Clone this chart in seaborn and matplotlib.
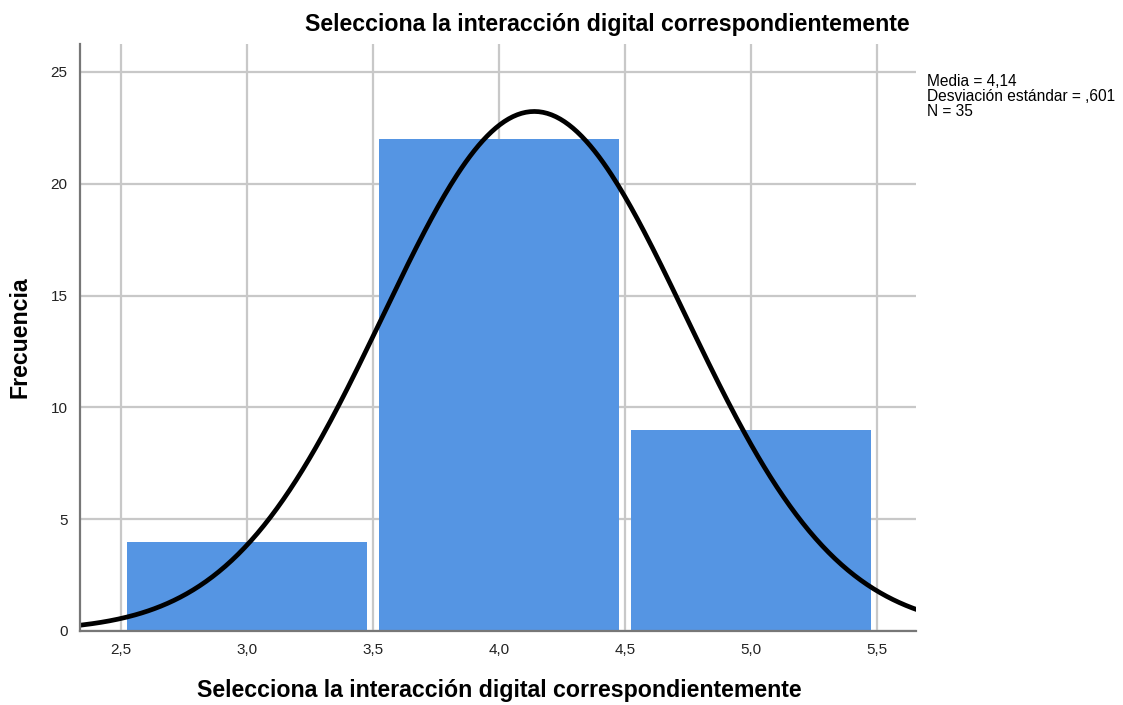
import numpy as np
import pandas as pd
import matplotlib
matplotlib.use("Agg")
import matplotlib.pyplot as plt
import seaborn as sns

# Datos
valores = [3, 4, 5]
frecuencias = [4, 22, 9]
bordes = [2.5, 3.5, 4.5, 5.5]
media = 4.14
desv = 0.601
n = 35
xticks = [2.5, 3.0, 3.5, 4.0, 4.5, 5.0, 5.5]
yticks = [0, 5, 10, 15, 20, 25]
titulo = "Selecciona la interacción digital correspondientemente"

df = pd.DataFrame({"valor": valores, "frecuencia": frecuencias})

sns.set_style("white")
plt.rcParams["font.family"] = ["Liberation Sans", "DejaVu Sans"]

fig = plt.figure(figsize=(11.23, 7.05), dpi=100)
ax = fig.add_axes([80 / 1123, 1 - 631 / 705, (916 - 80) / 1123, (631 - 44) / 705])

ax.set_axisbelow(True)
ax.grid(True, color="#c8c8c8", linewidth=1.6)

sns.histplot(data=df, x="valor", weights="frecuencia", bins=bordes, shrink=0.95,
             color="#5595e3", alpha=1, linewidth=0, ax=ax)

# Curva normal
xs = np.linspace(2.3, 5.7, 400)
ys = n * 1.0 / (desv * np.sqrt(2 * np.pi)) * np.exp(-0.5 * ((xs - media) / desv) ** 2)
ax.plot(xs, ys, color="black", linewidth=3.4)

ax.set_xlim(2.337, 5.655)
ax.set_ylim(0, 26.25)
ax.set_xticks(xticks)
ax.set_xticklabels([f"{t:.1f}".replace(".", ",") for t in xticks])
ax.set_yticks(yticks)
ax.tick_params(axis="both", labelsize=11, colors="#222222", length=0, pad=9)

for s in ["top", "right"]:
    ax.spines[s].set_visible(False)
for s in ["left", "bottom"]:
    ax.spines[s].set_color("#777777")
    ax.spines[s].set_linewidth(1.6)

ax.set_xlabel("")
ax.set_ylabel("")
fig.text(499 / 1123, 1 - 690 / 705, titulo, fontsize=16.7, fontweight="bold",
         ha="center", va="center", color="black")
fig.text(20 / 1123, 1 - 337 / 705, "Frecuencia", fontsize=16.7, fontweight="bold",
         ha="center", va="center", rotation=90, color="black")
fig.text(607 / 1123, 1 - 24 / 705, titulo, fontsize=16.7, fontweight="bold",
         ha="center", va="center", color="black")

fig.text(927 / 1123, 1 - 74 / 705,
         f"Media = {media:.2f}".replace(".", ",") + "\n"
         + f"Desviación estándar = ,{int(round(desv * 1000))}" + "\n"
         + f"N = {n}",
         fontsize=11.2, ha="left", va="top", linespacing=1.0, color="black")

fig.savefig("out.png", dpi=100)
